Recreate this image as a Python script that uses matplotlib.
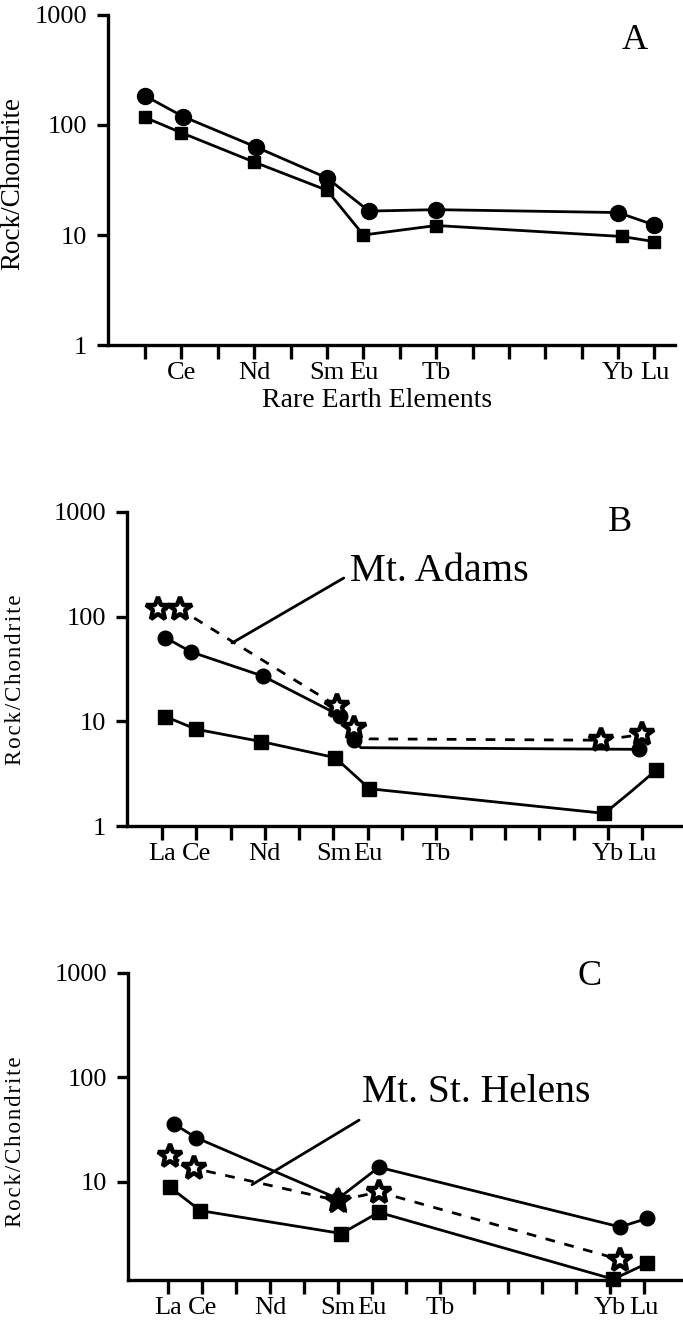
import matplotlib
matplotlib.use('Agg')
import matplotlib.pyplot as plt
from matplotlib.ticker import FixedLocator, FixedFormatter, NullLocator

plt.rcParams['font.family'] = ['Liberation Serif', 'DejaVu Serif']

# rare earth elements, La..Lu on evenly spaced positions 0..14
ree = ['La', 'Ce', 'Pr', 'Nd', 'Pm', 'Sm', 'Eu', 'Gd', 'Tb',
       'Dy', 'Ho', 'Er', 'Tm', 'Yb', 'Lu']
labels_a = ['Ce', 'Nd', 'Sm', 'Eu', 'Tb', 'Yb', 'Lu']
labels_bc = ['La', 'Ce', 'Nd', 'Sm', 'Eu', 'Tb', 'Yb', 'Lu']

# panel A
a_circle_x = [0, 1.05, 3.05, 5, 6.15, 8, 13, 14]
a_circle_y = [184, 119, 63, 33, 16.5, 17, 16, 12.3]
a_square_x = [0, 1, 3, 5, 6, 8, 13.1, 14]
a_square_y = [117, 85, 46, 25.5, 10, 12.2, 9.7, 8.7]

# panel B (Mt. Adams); *_marks = vertices that carry a symbol
b_circle_x = [0.1, 0.85, 2.95, 5.2, 5.6, 5.8, 13.9]
b_circle_y = [63, 46, 27, 11.3, 6.6, 5.6, 5.4]
b_circle_marks = [0, 1, 2, 3, 4, 6]
b_square_x = [0.1, 1.0, 2.9, 5.05, 6.05, 12.9, 13.65, 14.4]
b_square_y = [11.1, 8.4, 6.4, 4.5, 2.27, 1.32, 2.1, 3.4]
b_square_marks = [0, 1, 2, 3, 4, 5, 7]
b_star_x = [-0.12, 0.52, 5.1, 5.6, 6.05, 12.8, 14.0]
b_star_y = [118, 118, 14, 8.6, 6.8, 6.6, 7.5]
b_star_marks = [0, 1, 2, 3, 5, 6]

# panel C (Mt. St. Helens)
c_circle_x = [0.18, 0.82, 5.0, 6.2, 13.3, 14.1]
c_circle_y = [35.7, 26.5, 6.9, 13.8, 3.7, 4.47]
c_square_x = [0.05, 0.95, 5.1, 6.2, 13.1, 14.1]
c_square_y = [8.9, 5.3, 3.2, 5.1, 1.17, 1.66]
c_star_x = [0.07, 0.75, 5.0, 6.2, 13.3]
c_star_y = [17.5, 13.5, 6.6, 8.0, 1.8]
c_star_solid = [2]  # star drawn over the Sm circle

y_ticks = [1, 10, 100, 1000]

LW = 2.0
SPINE_LW = 2.4
STAR_MS = 18
STAR_MEW = 3.2


def setup_axes(ax, xlim, ylim, xlabels, ytick_labels):
    ax.set_yscale('log')
    ax.set_xlim(*xlim)
    ax.set_ylim(*ylim)
    for side in ('top', 'right'):
        ax.spines[side].set_visible(False)
    for side in ('left', 'bottom'):
        ax.spines[side].set_linewidth(SPINE_LW)
    ax.xaxis.set_major_locator(FixedLocator(range(len(ree))))
    ax.set_xticklabels([r if r in xlabels else '' for r in ree], fontsize=19)
    ax.xaxis.set_minor_locator(NullLocator())
    ax.yaxis.set_major_locator(FixedLocator([t for t in y_ticks if t >= ylim[0]]))
    ax.yaxis.set_major_formatter(FixedFormatter(ytick_labels))
    ax.yaxis.set_minor_locator(NullLocator())
    ax.tick_params(axis='x', direction='out', length=10, width=SPINE_LW, pad=2)
    ax.tick_params(axis='y', direction='out', length=8, width=SPINE_LW,
                   pad=7, labelsize=19)


def series(ax, x, y, marker, ms, ls='-', marks=None, face='black', mew=1.0, z=3):
    ax.plot(x, y, color='black', lw=LW, ls=ls,
            dashes=(3.5, 3.5) if ls == '--' else (None, None),
            marker=marker, markersize=ms, markerfacecolor=face,
            markeredgecolor='black', markeredgewidth=mew, markevery=marks,
            zorder=z, clip_on=False)


def leader(ax, start, end):
    ax.annotate('', xy=end, xytext=start,
                arrowprops=dict(arrowstyle='-', lw=LW, color='black',
                                shrinkA=0, shrinkB=0))


fig = plt.figure(figsize=(6.83, 13.25), dpi=100)

# ---- A ----
ax_a = fig.add_axes([0.1581, 0.7396, 0.8300, 0.2491])
setup_axes(ax_a, (-1.02, 14.56), (1, 1000), labels_a, ['1', '10', '100', '1000'])
series(ax_a, a_circle_x, a_circle_y, 'o', 11.5)
series(ax_a, a_square_x, a_square_y, 's', 9)
ax_a.set_xlabel('Rare Earth Elements', fontsize=20, labelpad=0)
ax_a.xaxis.set_label_coords(0.475, -0.13)
ax_a.set_ylabel('Rock/Chondrite', fontsize=19.5)
ax_a.yaxis.set_label_coords(-0.146, 0.49)
ax_a.text(0.929, 0.924, 'A', transform=ax_a.transAxes, fontsize=26,
          ha='center', va='center')

# ---- B ----
ax_b = fig.add_axes([0.1859, 0.3766, 0.8141, 0.2370])
setup_axes(ax_b, (-1.02, 15.19), (1, 1000), labels_bc, ['1', '10', '100', '1000'])
series(ax_b, b_square_x, b_square_y, 's', 9.5, marks=b_square_marks)
series(ax_b, b_circle_x, b_circle_y, 'o', 10.5, marks=b_circle_marks)
series(ax_b, b_star_x, b_star_y, '*', STAR_MS, ls='--', marks=b_star_marks,
       face='white', mew=STAR_MEW, z=4)
ax_b.set_ylabel('\u200a'.join('Rock/Chondrite'), fontsize=16.5)
ax_b.yaxis.set_label_coords(-0.182, 0.465)
ax_b.text(5.48, 270, 'Mt. Adams', fontsize=29, ha='left', va='center')
leader(ax_b, (5.3, 234), (2.04, 56))
ax_b.text(0.887, 0.968, 'B', transform=ax_b.transAxes, fontsize=26,
          ha='center', va='center')

# ---- C ----
ax_c = fig.add_axes([0.1874, 0.0340, 0.8126, 0.2317])
setup_axes(ax_c, (-1.18, 15.15), (1.15, 1000), labels_bc, ['10', '100', '1000'])
series(ax_c, c_square_x, c_square_y, 's', 9.5)
series(ax_c, c_circle_x, c_circle_y, 'o', 10.5)
series(ax_c, c_star_x, c_star_y, '*', STAR_MS, ls='--', face='white',
       mew=STAR_MEW, z=4)
ax_c.plot(c_star_x, c_star_y, ls='none', marker='*', markersize=STAR_MS + 2,
          color='black', markevery=c_star_solid, zorder=5)
ax_c.set_ylabel('\u200a'.join('Rock/Chondrite'), fontsize=16.5)
ax_c.yaxis.set_label_coords(-0.184, 0.45)
ax_c.text(5.7, 71, 'Mt. St. Helens', fontsize=28.5, ha='left', va='center')
leader(ax_c, (5.62, 39), (2.47, 9.4))
ax_c.text(0.831, 0.987, 'C', transform=ax_c.transAxes, fontsize=26,
          ha='center', va='center')

fig.savefig('out.png', dpi=100)
plt.close(fig)
